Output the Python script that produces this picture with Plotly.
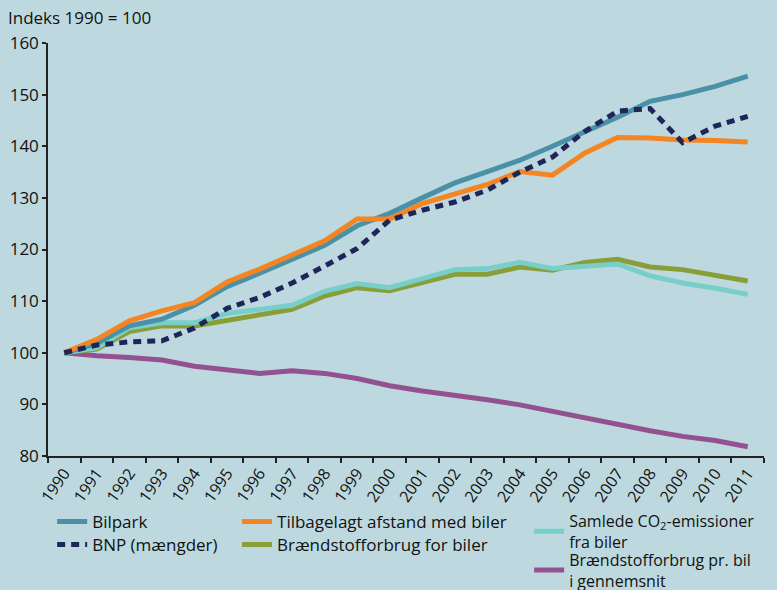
import plotly.graph_objects as go

years = [str(y) for y in range(1990, 2012)]

bilpark = [100, 101.8, 105.2, 106.5, 109.2, 112.8, 115.4, 118.1, 120.8, 124.6, 127.0,
           130.0, 132.9, 135.1, 137.3, 140.0, 142.7, 145.6, 148.7, 150.0, 151.6, 153.6]
bnp = [100, 101.5, 102.1, 102.3, 104.8, 108.6, 110.7, 113.5, 116.8, 120.2, 125.7,
       127.6, 129.2, 131.5, 135.0, 137.9, 142.9, 146.8, 147.3, 140.7, 143.9, 145.8]
afstand = [100, 102.6, 106.2, 108.1, 109.7, 113.7, 116.2, 119.0, 121.7, 125.9, 125.9,
           128.9, 130.8, 132.6, 135.1, 134.4, 138.7, 141.7, 141.6, 141.2, 141.1, 140.8]
braendstof = [100, 100.7, 104.1, 105.2, 105.2, 106.3, 107.3, 108.4, 111.0, 112.6, 112.0,
              113.5, 115.2, 115.2, 116.6, 116.0, 117.5, 118.1, 116.6, 116.1, 115.0, 113.9]
co2 = [100, 101.0, 104.8, 105.8, 105.8, 107.6, 108.4, 109.2, 111.9, 113.4, 112.6,
       114.4, 116.1, 116.3, 117.5, 116.3, 116.8, 117.2, 114.9, 113.5, 112.5, 111.3]
pr_bil = [100, 99.4, 99.1, 98.6, 97.4, 96.7, 96.0, 96.5, 96.0, 95.0, 93.6,
          92.6, 91.8, 90.9, 89.9, 88.6, 87.3, 86.2, 84.9, 83.8, 83.0, 81.8]

y_ticks = [80, 90, 100, 110, 120, 130, 140, 150, 160]

BG = "#BDD9DF"
FONT = "Open Sans"
W = 5

fig = go.Figure()
fig.add_trace(go.Scatter(x=years, y=pr_bil, name="Brændstofforbrug pr. bil<br>i gennemsnit",
                         mode="lines", line=dict(color="#93528F", width=W), legend="legend6"))
fig.add_trace(go.Scatter(x=years, y=braendstof, name="Brændstofforbrug for biler",
                         mode="lines", line=dict(color="#8A9E38", width=W), legend="legend4"))
fig.add_trace(go.Scatter(x=years, y=co2, name="Samlede CO<sub>2</sub>-emissioner<br>fra biler",
                         mode="lines", line=dict(color="#78CEC9", width=W), legend="legend5"))
fig.add_trace(go.Scatter(x=years, y=bilpark, name="Bilpark",
                         mode="lines", line=dict(color="#4A91A8", width=W), legend="legend"))
fig.add_trace(go.Scatter(x=years, y=afstand, name="Tilbagelagt afstand med biler",
                         mode="lines", line=dict(color="#F58423", width=W), legend="legend3"))
fig.add_trace(go.Scatter(x=years, y=bnp, name="BNP (mængder)",
                         mode="lines", line=dict(color="#1F2559", width=W, dash="8px,6px"),
                         legend="legend2"))

lc = dict(bgcolor="rgba(0,0,0,0)", orientation="v", tracegroupgap=0,
          xanchor="left", yanchor="top", yref="container")
F17 = dict(family=FONT, size=17, color="#111")
F16 = dict(family=FONT, size=16, color="#111")
ROW1, ROW2, ROW3 = 0.1458, 0.1068, 0.0800
COL1, COL2, COL3 = 0.0058, 0.264, 0.672

fig.update_layout(
    width=777, height=590,
    paper_bgcolor=BG, plot_bgcolor=BG,
    margin=dict(l=48, r=13, t=43, b=134, autoexpand=False),
    font=dict(family=FONT, size=15, color="#111"),
    showlegend=True,
    legend=dict(**lc, font=F17, x=COL1, y=ROW1),
    legend2=dict(**lc, font=F17, x=COL1, y=ROW2),
    legend3=dict(**lc, font=F17, x=COL2, y=ROW1),
    legend4=dict(**lc, font=F17, x=COL2, y=ROW2),
    legend5=dict(**lc, font=F16, x=COL3, y=ROW1),
    legend6=dict(**lc, font=F16, x=COL3, y=ROW3),
    xaxis=dict(type="category", range=[-0.5, 21.5], tickson="boundaries",
               showline=True, linecolor="#222", linewidth=1.5,
               ticks="outside", ticklen=5, tickcolor="#222", tickwidth=1.5,
               tickangle=-55, tickfont=dict(size=16), showgrid=False, zeroline=False),
    yaxis=dict(range=[80, 160], tickvals=y_ticks, showline=True, linecolor="#222",
               linewidth=1.5, ticks="outside", ticklen=4, tickcolor="#222", tickwidth=1.5,
               tickfont=dict(size=17), showgrid=False, zeroline=False),
    annotations=[dict(text="Indeks 1990 = 100", xref="paper", yref="paper",
                      x=-0.058, y=1.062, xanchor="left", yanchor="middle",
                      showarrow=False, font=dict(size=17, color="#111"))],
)

fig.write_html("out.html", config={"displayModeBar": False},
               post_script="document.body.style.margin='0';document.body.style.overflow='hidden';")
